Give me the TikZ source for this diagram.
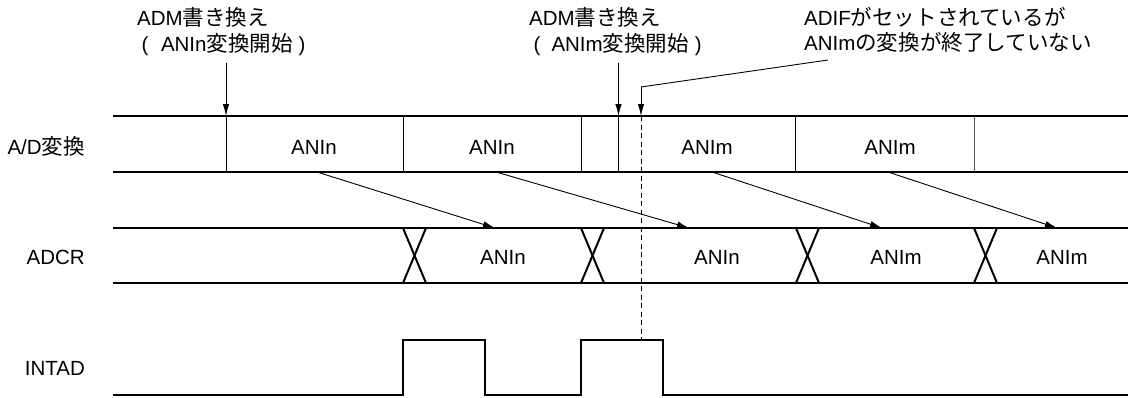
\documentclass[tikz,border=0pt]{standalone}
\usepackage{fontspec}
\setmainfont{Liberation Sans}
\newfontfamily\jp[Scale=1.05]{Noto Sans CJK JP}
\usetikzlibrary{arrows.meta}
\begin{document}
\begin{tikzpicture}[x=1pt,y=-1pt,
  font=\fontsize{20.5}{24}\selectfont,
  bus/.style={line width=2pt},
  sep/.style={line width=0.9pt},
  arr/.style={line width=0.9pt,-{Latex[length=12pt,width=6.5pt]}},
  dsh/.style={line width=0.9pt,dash pattern=on 5pt off 3.5pt},
  txt/.style={inner sep=0pt,anchor=base},
  lbl/.style={inner sep=0pt,anchor=base east},
  note/.style={inner sep=0pt,anchor=base west}]
\useasboundingbox (0,0) rectangle (1128,397);

% annotations
\node[note] (n1a) at (137,25) {ADM{\jp 書き換え}};
\node[note] (n1b) at (141.5,51) {(\hspace{12.5pt}ANIn{\jp 変換開始}\hspace{6pt})};
\node[note] (n2a) at (529,25) {ADM{\jp 書き換え}};
\node[note] (n2b) at (533.5,51) {(\hspace{11pt}ANIm{\jp 変換開始}\hspace{6pt})};
\node[note] (n3a) at (804,25) {ADIF{\jp がセットされているが}};
\node[note] (n3b) at (804,50) {ANIm{\jp の変換が終了していない}};

% row labels
\node[lbl] (lad) at (85,154) {A/D{\jp 変換}};
\node[lbl] (ladcr) at (85,264) {ADCR};
\node[lbl] (lint) at (85,375) {INTAD};

% A/D row
\draw[bus] (113,116) -- (1128,116);
\draw[bus] (113,172) -- (1128,172);
\foreach \x in {226,403,581,618.5,795}{\draw[sep] (\x,116) -- (\x,172);}
\draw[sep,black!65] (974,116) -- (974,172);
\node[txt] (c1) at (314,154) {ANIn};
\node[txt] (c2) at (492,154) {ANIn};
\node[txt] (c3) at (707,154) {ANIm};
\node[txt] (c4) at (890,154) {ANIm};

% ADCR row
\draw[bus] (113,228) -- (1128,228);
\draw[bus] (113,283) -- (1128,283);
\foreach \x in {403,581,796,974}{
  \draw[bus] (\x,228) -- (\x+23,283);
  \draw[bus] (\x+23,228) -- (\x,283);}
\node[txt] (r1) at (503,264) {ANIn};
\node[txt] (r2) at (717,264) {ANIn};
\node[txt] (r3) at (896,264) {ANIm};
\node[txt] (r4) at (1062,264) {ANIm};

% INTAD
\draw[bus] (113,395) -- (403,395) -- (403,340) -- (485,340) -- (485,395)
  -- (581,395) -- (581,340) -- (663,340) -- (663,395) -- (1128,395);

% transfer arrows
\coordinate (s1) at (317,172); \coordinate (e1) at (495,228);
\coordinate (s2) at (496,172); \coordinate (e2) at (689,228);
\coordinate (s3) at (712,172); \coordinate (e3) at (882,228);
\coordinate (s4) at (888,172); \coordinate (e4) at (1057,228);
\draw[arr] (s1) -- (e1);
\draw[arr] (s2) -- (e2);
\draw[arr] (s3) -- (e3);
\draw[arr] (s4) -- (e4);

% write arrows
\coordinate (w1) at (226,63); \coordinate (w1e) at (226,116);
\coordinate (w2) at (618.5,63); \coordinate (w2e) at (618.5,116);
\draw[arr] (w1) -- (w1e);
\draw[arr] (w2) -- (w2e);

% ADIF leader
\coordinate (l0) at (828,60);
\coordinate (l1) at (641,87);
\coordinate (l2) at (641,116);
\coordinate (l3) at (641,340);
\draw[sep] (l0) -- (l1);
\draw[arr] (l1) -- (l2);
\draw[dsh] (l2) -- (l3);
\end{tikzpicture}
\end{document}
